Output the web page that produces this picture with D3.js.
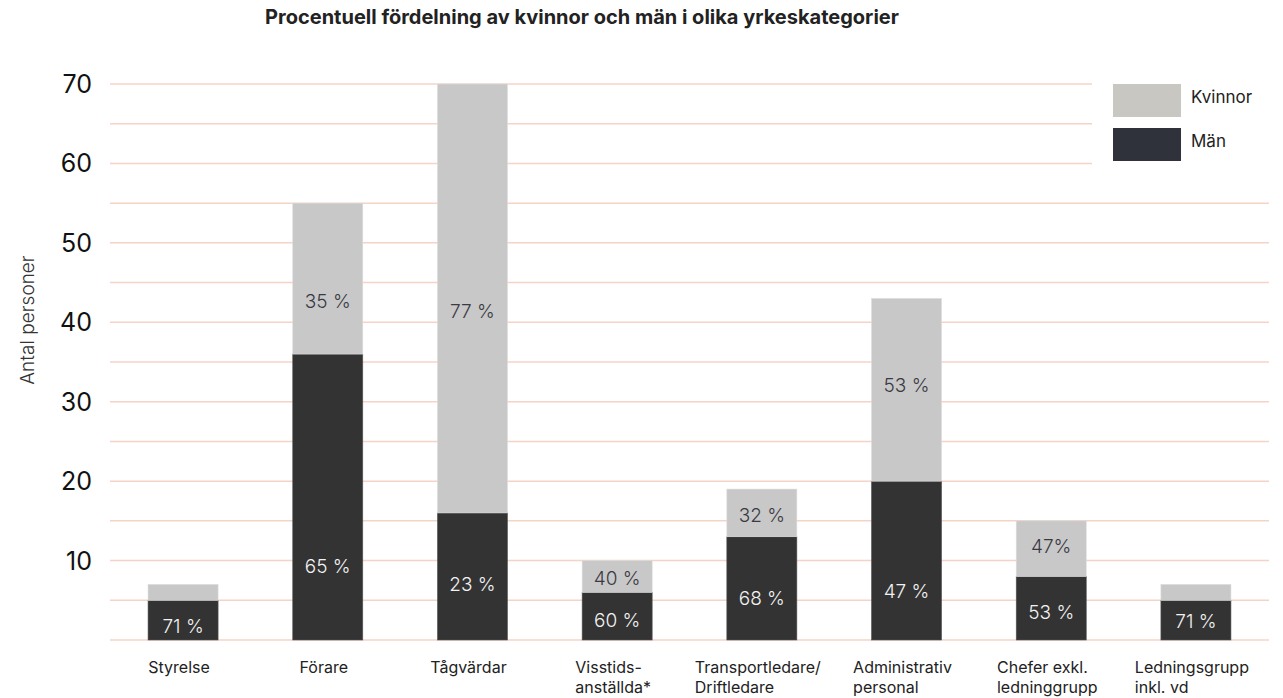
<!DOCTYPE html>
<html>
<head>
<meta charset="utf-8">
<script src="https://cdn.jsdelivr.net/npm/d3@7"></script>
<style>
  body { margin: 0; background: #fff; }
  svg { display: block; font-family: Inter, "Noto Sans", sans-serif; }
</style>
</head>
<body>
<svg width="1283" height="698"></svg>
<script>
// categories (line breaks as in the original)
const categories = [
  ['Styrelse'],
  ['Förare'],
  ['Tågvärdar'],
  ['Visstids-', 'anställda*'],
  ['Transportledare/', 'Driftledare'],
  ['Administrativ', 'personal'],
  ['Chefer exkl.', 'ledninggrupp'],
  ['Ledningsgrupp', 'inkl. vd']
]
const men = [5, 36, 16, 6, 13, 20, 8, 5]
const women = [2, 19, 54, 4, 6, 23, 7, 2]
const menPct = ['71 %', '65 %', '23 %', '60 %', '68 %', '47 %', '53 %', '71 %']
const womenPct = [null, '35 %', '77 %', '40 %', '32 %', '53 %', '47%', null]
// where the percentage labels sit, in persons
const menLabelAt = [1.8, 9.3, 7.0, 2.5, 5.3, 6.2, 3.5, 2.4]
const womenLabelAt = [null, 42.7, 41.4, 7.8, 15.7, 32.1, 11.8, null]
const yTicks = [10, 20, 30, 40, 50, 60, 70]
const gridValues = d3.range(0, 71, 5)

const svg = d3.select('svg')

const x = d3.scaleBand()
  .domain(d3.range(categories.length))
  .range([110, 1269])
  .paddingInner(0.516)
  .paddingOuter(0.263)

const y = d3.scaleLinear()
  .domain([0, 70])
  .range([640, 84])

// title
svg.append('text')
  .attr('x', 582)
  .attr('y', 24)
  .attr('text-anchor', 'middle')
  .attr('font-size', 20)
  .attr('font-weight', 700)
  .attr('fill', '#222')
  .text('Procentuell fördelning av kvinnor och män i olika yrkeskategorier')

// grid
svg.append('g')
  .selectAll('line')
  .data(gridValues)
  .enter()
  .append('line')
  .attr('x1', 110)
  .attr('x2', 1269)
  .attr('y1', d => y(d))
  .attr('y2', d => y(d))
  .attr('stroke', '#f6d3c7')
  .attr('stroke-width', 1.5)

// y ticks
svg.append('g')
  .selectAll('text')
  .data(yTicks)
  .enter()
  .append('text')
  .attr('x', 92)
  .attr('y', d => y(d))
  .attr('dy', '0.36em')
  .attr('text-anchor', 'end')
  .attr('font-size', 25)
  .attr('fill', '#111')
  .text(d => d)

svg.append('text')
  .attr('transform', 'translate(34, 320) rotate(-90)')
  .attr('text-anchor', 'middle')
  .attr('font-size', 19)
  .attr('font-weight', 300)
  .attr('fill', '#333')
  .text('Antal personer')

// bars
const bars = svg.append('g')
bars.selectAll('rect.men')
  .data(men)
  .enter()
  .append('rect')
  .attr('class', 'men')
  .attr('x', (d, i) => x(i))
  .attr('width', x.bandwidth())
  .attr('y', d => y(d))
  .attr('height', d => y(0) - y(d))
  .attr('fill', '#333333')
  .attr('stroke', '#555')
  .attr('stroke-width', 0.6)

bars.selectAll('rect.women')
  .data(women)
  .enter()
  .append('rect')
  .attr('class', 'women')
  .attr('x', (d, i) => x(i))
  .attr('width', x.bandwidth())
  .attr('y', (d, i) => y(men[i] + d))
  .attr('height', (d, i) => y(men[i]) - y(men[i] + d))
  .attr('fill', '#c8c8c8')
  .attr('stroke', '#ddd')
  .attr('stroke-width', 0.6)

// percentage labels
svg.append('g')
  .selectAll('text')
  .data(menPct)
  .enter()
  .append('text')
  .attr('x', (d, i) => x(i) + x.bandwidth() / 2)
  .attr('y', (d, i) => y(menLabelAt[i]))
  .attr('dy', '0.36em')
  .attr('text-anchor', 'middle')
  .attr('font-size', 19)
  .attr('font-weight', 300)
  .attr('fill', '#f2f2f2')
  .text(d => d)

svg.append('g')
  .selectAll('text')
  .data(womenPct.map((t, i) => ({ t, i })).filter(d => d.t))
  .enter()
  .append('text')
  .attr('x', d => x(d.i) + x.bandwidth() / 2)
  .attr('y', d => y(womenLabelAt[d.i]))
  .attr('dy', '0.36em')
  .attr('text-anchor', 'middle')
  .attr('font-size', 19)
  .attr('font-weight', 300)
  .attr('fill', '#3a3a44')
  .text(d => d.t)

// category labels, left-aligned block centred under each bar
const xl = svg.append('g')
  .selectAll('text')
  .data(categories)
  .enter()
  .append('text')
  .attr('font-size', 16)
  .attr('fill', '#222')

xl.each(function (lines, i) {
  const t = d3.select(this)
  lines.forEach((line, k) => {
    t.append('tspan')
      .attr('y', 673 + k * 20)
      .text(line)
  })
  const w = d3.max(t.selectAll('tspan').nodes(), n => n.getComputedTextLength())
  const left = x(i) + x.bandwidth() / 2 - w / 2 - 4
  t.selectAll('tspan').attr('x', left)
})

// legend (white box over the grid)
const lg = svg.append('g')
lg.append('rect')
  .attr('x', 1092)
  .attr('y', 70)
  .attr('width', 191)
  .attr('height', 104)
  .attr('fill', '#fff')

const legend = [['Kvinnor', '#c8c7c2'], ['Män', '#2f313b']]
lg.selectAll('g.item')
  .data(legend)
  .enter()
  .append('g')
  .attr('transform', (d, i) => `translate(1113, ${84 + i * 44})`)
  .each(function (d) {
    const g = d3.select(this)
    g.append('rect').attr('width', 68).attr('height', 33).attr('fill', d[1])
    g.append('text')
      .attr('x', 78)
      .attr('y', 13)
      .attr('dy', '0.36em')
      .attr('font-size', 17)
      .attr('fill', '#222')
      .text(d[0])
  })
</script>
</body>
</html>
